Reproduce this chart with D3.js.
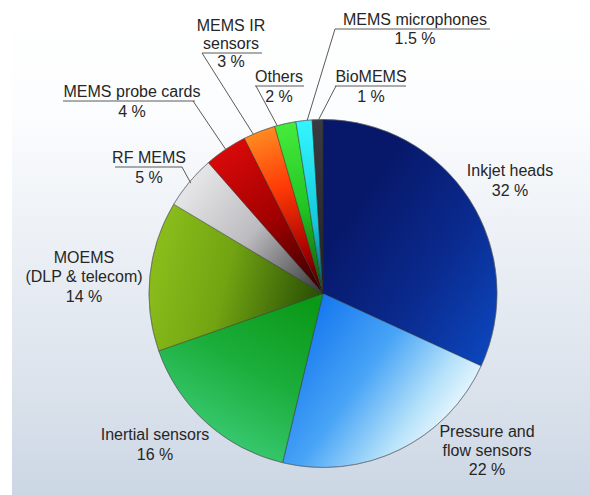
<!DOCTYPE html>
<html>
<head>
<meta charset="utf-8">
<script src="https://cdn.jsdelivr.net/npm/d3@7/dist/d3.min.js"></script>
<style>
  html, body { margin: 0; padding: 0; background: #fff; }
  svg { display: block; }
  text { font-family: "Liberation Sans", Arial, sans-serif; fill: #262626; }
</style>
</head>
<body>
<svg id="chart" width="590" height="495"></svg>
<script>
// MEMS market share by application segment (percent)
const categories = [
  "Inkjet heads", "Pressure and flow sensors", "Inertial sensors",
  "MOEMS (DLP & telecom)", "RF MEMS", "MEMS probe cards",
  "MEMS IR sensors", "Others", "MEMS microphones", "BioMEMS"
];
const values = [32, 22, 16, 14, 5, 4, 3, 2, 1.5, 1];
const percentLabels = ["32 %", "22 %", "16 %", "14 %", "5 %", "4 %", "3 %", "2 %", "1.5 %", "1 %"];
const nameLines = [
  ["Inkjet heads"],
  ["Pressure and", "flow sensors"],
  ["Inertial sensors"],
  ["MOEMS", "(DLP & telecom)"],
  ["RF MEMS"],
  ["MEMS probe cards"],
  ["MEMS IR", "sensors"],
  ["Others"],
  ["MEMS microphones"],
  ["BioMEMS"]
];

// Slice shading: gradient stops and direction (in radius units from the centre)
const sliceStyles = [
  { v: [0.05, -0.3, 1.0, 0.35], stops: [[0, "#07186a"], [0.5, "#0a2a8e"], [1, "#0c48bf"]] },
  { v: [-0.15, 0.15, 0.75, 0.8], stops: [[0, "#1274ee"], [0.45, "#48a4f6"], [0.78, "#b6e2fa"], [1, "#f6fcff"]] },
  { v: [-0.05, 0.05, -0.55, 0.95], stops: [[0, "#0a9816"], [0.5, "#1cae3c"], [1, "#3ccd78"]] },
  { v: [-1.0, -0.25, 0.0, 0.0], stops: [[0, "#8cbf1c"], [0.45, "#72a412"], [1, "#264c05"]] },
  { v: [-0.75, -0.62, 0.0, 0.0], stops: [[0, "#e4e4e6"], [0.45, "#bcbcc0"], [1, "#333335"]] },
  { v: [-0.58, -0.86, 0.0, 0.0], stops: [[0, "#dc0a0a"], [0.5, "#a20000"], [1, "#2c0000"]] },
  { v: [-0.36, -0.94, 0.0, 0.0], stops: [[0, "#ff8c22"], [0.35, "#ff3a06"], [0.75, "#a80000"], [1, "#2c0000"]] },
  { v: [-0.22, -0.98, 0.0, 0.0], stops: [[0, "#46ec3c"], [0.5, "#22c422"], [1, "#0a500a"]] },
  { v: [-0.1, -1.0, 0.0, 0.0], stops: [[0, "#34f6ff"], [0.6, "#14c8da"], [1, "#0a4a58"]] },
  { v: [0, -1.0, 0.0, 0.0], stops: [[0, "#3a3a42"], [1, "#202024"]] }
];

// Label placement: text centre x, baselines, optional underline and leader
const labelLayout = [
  { x: 510, y: [176, 196] },
  { x: 487, y: [437, 456, 475] },
  { x: 155, y: [440, 460] },
  { x: 84,  y: [263, 282, 302] },
  { x: 149, y: [163, 183], ul: { line: 0, y: 167, x0: 115, x1: 182 }, from: [182, 167], t: 0.5, r: 0.99 },
  { x: 132, y: [97, 117],  ul: { line: 0, y: 101, x0: 63,  x1: 195 }, from: [193, 101], t: 0.5, r: 1.0 },
  { x: 231, y: [31, 49, 67], ul: { line: 1, y: 53, x0: 202, x1: 262 }, from: [202, 53], t: 0.3, r: 1.0 },
  { x: 279, y: [82, 102],  ul: { line: 0, y: 86, x0: 255, x1: 304 }, from: [256, 86], t: 0.12, r: 1.0 },
  { x: 415, y: [25, 44],   ul: { line: 0, y: 29, x0: 335, x1: 490 }, from: [335, 29], t: 0.7, r: 1.0 },
  { x: 371, y: [82, 102],  ul: { line: 0, y: 86, x0: 335, x1: 406 }, from: [336, 86], t: 0.6, r: 1.0 }
];

const W = 590, H = 495;
const cx = 323, cy = 293.5, R = 174;

const svg = d3.select("#chart");
const defs = svg.append("defs");

// Background wash
const bg = defs.append("linearGradient").attr("id", "bg")
  .attr("x1", 0).attr("y1", 0).attr("x2", 0).attr("y2", 1);
[[0, "#ffffff"], [0.22, "#fcfdfe"], [0.45, "#eef2f7"], [0.75, "#dde4ed"], [1, "#ccd7e4"]]
  .forEach(([o, c]) => bg.append("stop").attr("offset", o).attr("stop-color", c));
svg.append("rect").attr("width", W).attr("height", H).attr("fill", "#ffffff");
svg.append("rect").attr("x", 12).attr("width", W - 12).attr("height", H).attr("fill", "url(#bg)");

// Slice gradients, expressed in the pie group's own coordinates (origin at the centre)
sliceStyles.forEach((s, i) => {
  const g = defs.append("linearGradient").attr("id", "slice" + i)
    .attr("gradientUnits", "userSpaceOnUse")
    .attr("x1", s.v[0] * R).attr("y1", s.v[1] * R)
    .attr("x2", s.v[2] * R).attr("y2", s.v[3] * R);
  s.stops.forEach(([o, c]) => g.append("stop").attr("offset", o).attr("stop-color", c));
});

const pie = d3.pie().sort(null).value(d => d).startAngle(0).endAngle(2 * Math.PI);
const arcs = pie(values);
const arc = d3.arc().innerRadius(0).outerRadius(R);

const pieG = svg.append("g").attr("transform", `translate(${cx},${cy})`);
pieG.selectAll("path.slice")
  .data(arcs)
  .join("path")
  .attr("class", "slice")
  .attr("d", arc)
  .attr("fill", (d, i) => `url(#slice${i})`)
  .attr("stroke", "#2a2a2a")
  .attr("stroke-opacity", 0.55)
  .attr("stroke-width", 0.8)
  .attr("stroke-linejoin", "round");

// Thin rim around the pie
pieG.append("circle").attr("r", R).attr("fill", "none")
  .attr("stroke", "#6a6f78").attr("stroke-opacity", 0.6).attr("stroke-width", 0.8);

// Labels
const labelG = svg.append("g");
arcs.forEach((a, i) => {
  const L = labelLayout[i];
  const lines = nameLines[i].concat([percentLabels[i]]);
  const t = labelG.append("text")
    .attr("text-anchor", "middle")
    .style("font-size", "16px");
  lines.forEach((s, k) => {
    t.append("tspan").attr("x", L.x).attr("y", L.y[k]).text(s);
  });

  if (L.ul) {
    labelG.append("line")
      .attr("x1", L.ul.x0).attr("x2", L.ul.x1)
      .attr("y1", L.ul.y).attr("y2", L.ul.y)
      .attr("stroke", "#5a5a5a").attr("stroke-width", 1);
  }
  if (L.from) {
    const ang = a.startAngle + (a.endAngle - a.startAngle) * L.t;
    const px = cx + Math.sin(ang) * R * L.r;
    const py = cy - Math.cos(ang) * R * L.r;
    labelG.append("line")
      .attr("x1", L.from[0]).attr("y1", L.from[1])
      .attr("x2", px).attr("y2", py)
      .attr("stroke", "#5a5a5a").attr("stroke-width", 1);
  }
});
</script>
</body>
</html>
